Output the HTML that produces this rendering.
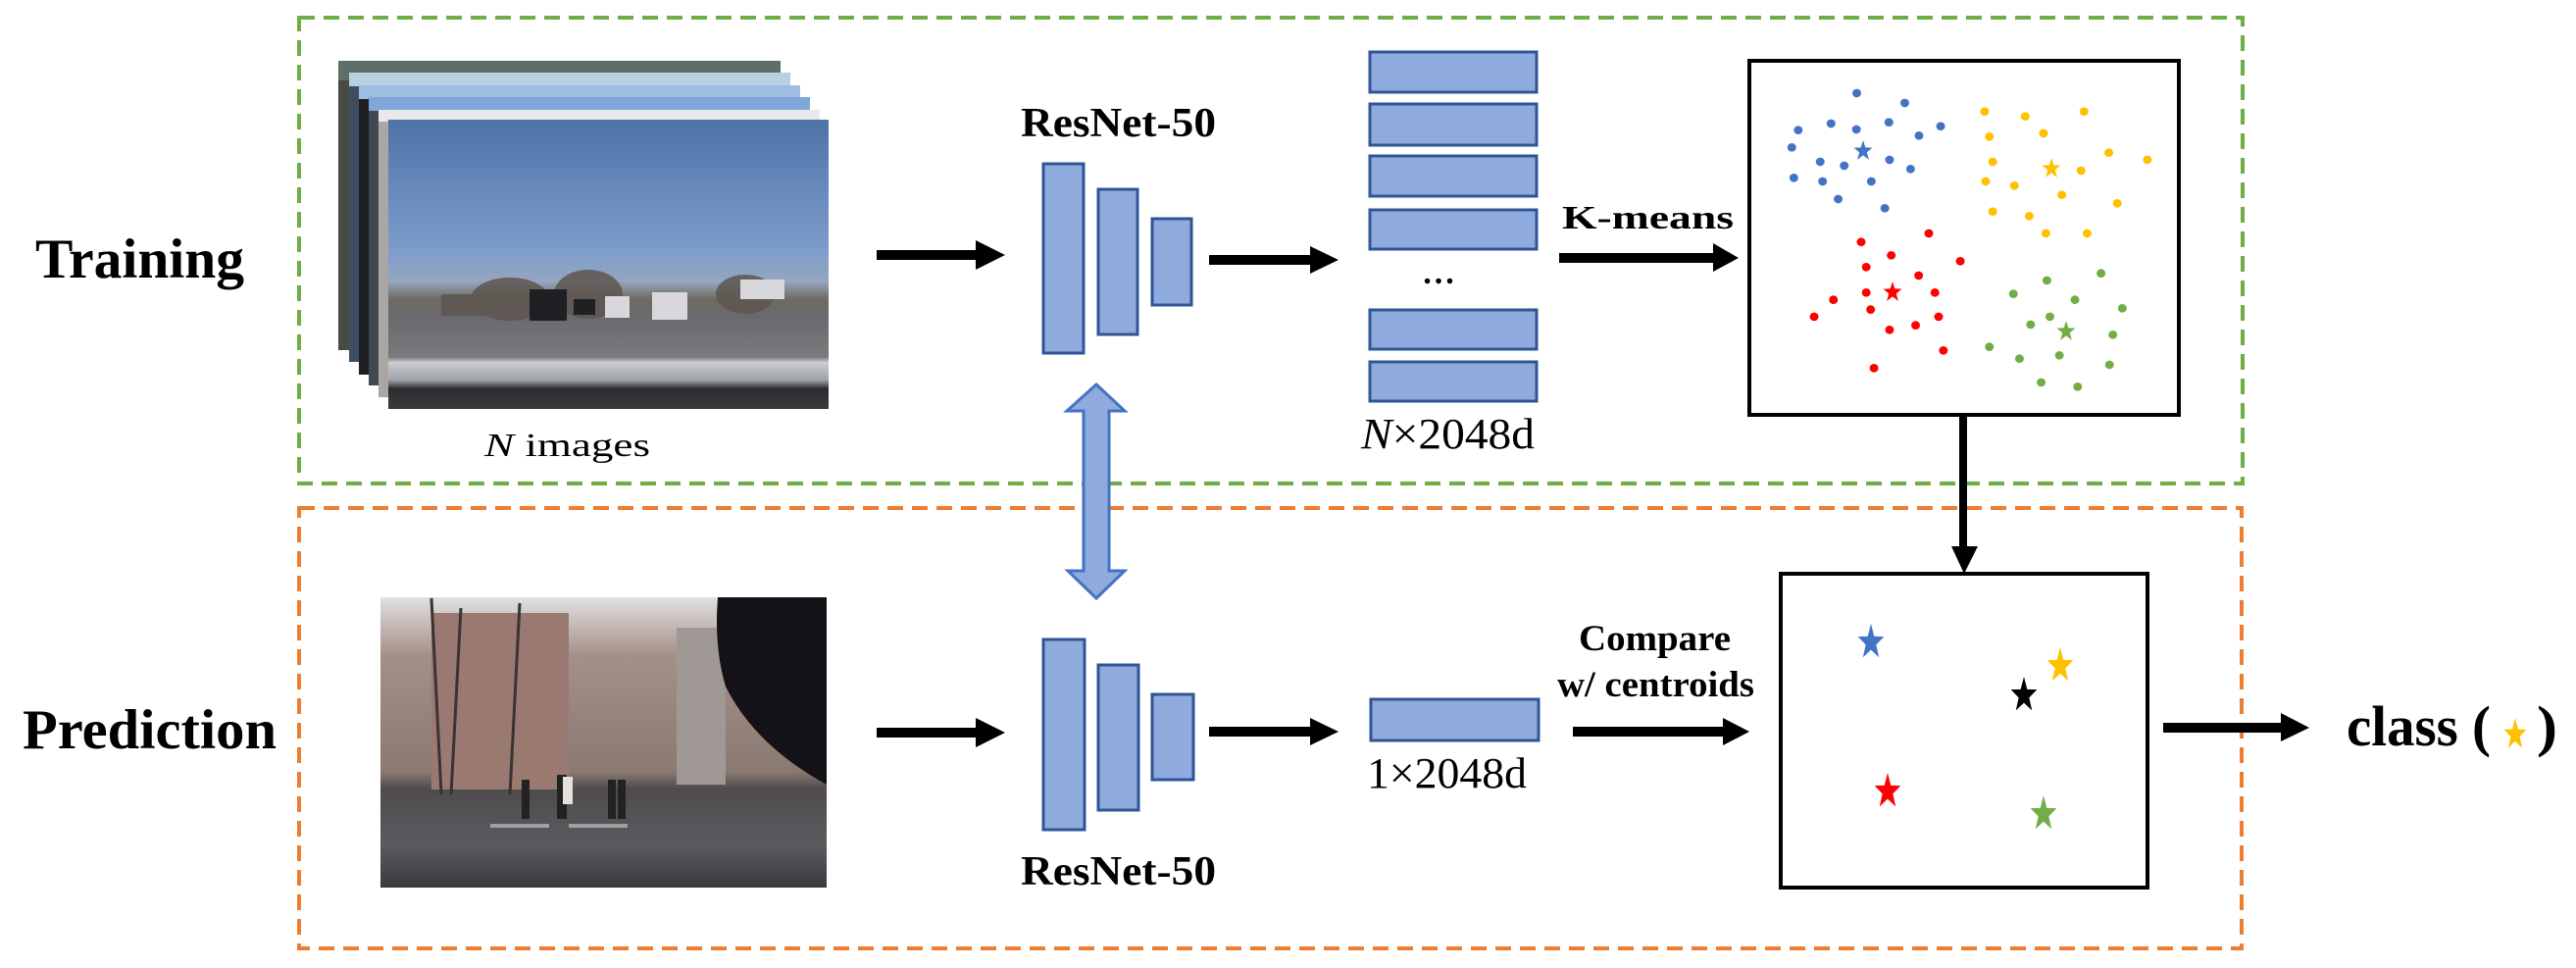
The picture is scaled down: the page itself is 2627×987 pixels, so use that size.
<!DOCTYPE html>
<html><head><meta charset="utf-8"><style>
html,body{margin:0;padding:0;background:#fff;}
svg{display:block;}
text{font-family:"Liberation Serif",serif;fill:#000;}
</style></head><body>
<svg width="2627" height="987" viewBox="0 0 2627 987" xmlns="http://www.w3.org/2000/svg">
<defs>
<path id="st" d="M0,-1 L0.235,-0.324 L0.951,-0.309 L0.38,0.124 L0.588,0.809 L0,0.4 L-0.588,0.809 L-0.38,0.124 L-0.951,-0.309 L-0.235,-0.324Z"/>
<linearGradient id="sky" x1="0" y1="0" x2="0" y2="1">
<stop offset="0" stop-color="#4e73a8"/><stop offset="0.45" stop-color="#7d9ccc"/><stop offset="0.56" stop-color="#95a6c0"/>
<stop offset="0.62" stop-color="#6d6a60"/><stop offset="0.68" stop-color="#6a6a6e"/><stop offset="0.82" stop-color="#7a797c"/>
<stop offset="0.84" stop-color="#c9ccd0"/><stop offset="0.9" stop-color="#9ea3a8"/><stop offset="0.93" stop-color="#2a2b2e"/><stop offset="1" stop-color="#3a3b3f"/>
</linearGradient>
<linearGradient id="pred" x1="0" y1="0" x2="0" y2="1">
<stop offset="0" stop-color="#e2e0e2"/><stop offset="0.2" stop-color="#a49088"/><stop offset="0.6" stop-color="#8a7a72"/>
<stop offset="0.66" stop-color="#4f4b4d"/><stop offset="0.85" stop-color="#5b5a5e"/><stop offset="1" stop-color="#3a3a3e"/>
</linearGradient>
</defs>

<rect x="305" y="18" width="1982" height="475" fill="none" stroke="#70ad47" stroke-width="4" stroke-dasharray="16,9"/>
<rect x="305" y="518" width="1981" height="449" fill="none" stroke="#ed7d31" stroke-width="4" stroke-dasharray="16,9"/>

<text x="36" y="283" font-size="57" font-weight="bold" textLength="213" lengthAdjust="spacingAndGlyphs">Training</text>
<text x="23" y="763" font-size="57" font-weight="bold" textLength="259" lengthAdjust="spacingAndGlyphs">Prediction</text>

<!-- image stack -->
<rect x="345" y="62" width="451" height="295" fill="#4a4a44"/>
<rect x="345" y="62" width="451" height="20" fill="#5e6f6a"/>
<rect x="356" y="74" width="450" height="295" fill="#3e4d60"/>
<rect x="356" y="74" width="450" height="14" fill="#b8d0e2"/>
<rect x="366" y="87" width="450" height="295" fill="#1d1f22"/>
<rect x="366" y="87" width="450" height="14" fill="#9fbde0"/>
<rect x="376" y="99" width="450" height="294" fill="#404852"/>
<rect x="376" y="99" width="450" height="14" fill="#7fa7d8"/>
<rect x="386" y="112" width="450" height="293" fill="#a9a6a4"/>
<rect x="386" y="112" width="450" height="12" fill="#e8e8ea"/>
<rect x="396" y="122" width="449" height="295" fill="url(#sky)"/>
<g fill="#5e5650" opacity="0.85">
<ellipse cx="520" cy="305" rx="40" ry="22"/><ellipse cx="600" cy="300" rx="35" ry="25"/><ellipse cx="760" cy="300" rx="30" ry="20"/>
<rect x="450" y="300" width="110" height="22"/>
</g>
<g fill="#1f2024"><rect x="540" y="295" width="38" height="32"/><rect x="585" y="305" width="22" height="16"/></g>
<g fill="#d8d8dc"><rect x="617" y="302" width="25" height="22"/><rect x="665" y="298" width="36" height="28"/><rect x="755" y="285" width="45" height="20"/></g>
<text x="494" y="465" font-size="34" textLength="169" lengthAdjust="spacingAndGlyphs"><tspan font-style="italic">N</tspan> images</text>

<!-- prediction image -->
<rect x="388" y="609" width="455" height="296" fill="url(#pred)"/>
<rect x="440" y="625" width="140" height="180" fill="#9a7a70"/>
<rect x="690" y="640" width="50" height="160" fill="#a09894"/>
<g stroke="#3a3234" stroke-width="3"><line x1="440" y1="610" x2="450" y2="810"/><line x1="470" y1="620" x2="460" y2="810"/><line x1="530" y1="615" x2="520" y2="810"/></g>
<g fill="#222"><rect x="532" y="795" width="8" height="40"/><rect x="568" y="790" width="10" height="45"/><rect x="620" y="795" width="8" height="40"/><rect x="630" y="795" width="8" height="40"/></g>
<rect x="574" y="792" width="10" height="28" fill="#e8e0dc"/>
<g fill="#cfcfd2" opacity="0.6"><rect x="500" y="840" width="60" height="4"/><rect x="580" y="840" width="60" height="4"/></g>
<path d="M732,609 L843,609 L843,800 Q770,760 740,700 Q728,660 732,609Z" fill="#141216"/>

<!-- arrows -->
<g fill="#000">
<rect x="894" y="255" width="103" height="10"/><polygon points="995,245 1025,260 995,275"/>
<rect x="894" y="742" width="103" height="10"/><polygon points="995,732 1025,747 995,762"/>
<rect x="1233" y="260" width="105" height="10"/><polygon points="1336,251 1365,265 1336,279"/>
<rect x="1233" y="741" width="105" height="10"/><polygon points="1336,732 1365,746 1336,760"/>
<rect x="1590" y="258" width="159" height="10"/><polygon points="1747,248 1773,263 1747,277"/>
<rect x="1604" y="741" width="155" height="10"/><polygon points="1757,732 1784,746 1757,760"/>
<rect x="2206" y="737" width="122" height="10"/><polygon points="2326,727 2355,742 2326,756"/>
<rect x="1998" y="423" width="8" height="136"/><polygon points="1990,557 2017,557 2003,585"/>
</g>

<g fill="#8faadc" stroke="#2f5597" stroke-width="3">
<rect x="1064" y="167" width="41" height="193"/>
<rect x="1120" y="193" width="40" height="148"/>
<rect x="1175" y="223" width="40" height="88"/>
<rect x="1064" y="652" width="42" height="194"/>
<rect x="1120" y="678" width="41" height="148"/>
<rect x="1175" y="708" width="42" height="87"/>
<rect x="1397" y="53" width="170" height="41"/>
<rect x="1397" y="106" width="170" height="42"/>
<rect x="1397" y="159" width="170" height="41"/>
<rect x="1397" y="214" width="170" height="40"/>
<rect x="1397" y="316" width="170" height="40"/>
<rect x="1397" y="369" width="170" height="40"/>
<rect x="1398" y="713" width="171" height="42"/>
</g>
<text x="1467" y="289" font-size="34" font-weight="bold" text-anchor="middle">…</text>
<polygon points="1118,392 1147,419 1131,419 1131,582 1147,582 1118,610 1089,582 1105,582 1105,419 1088,419" fill="#8faadc" stroke="#4472c4" stroke-width="3"/>

<text x="1041" y="139" font-size="42" font-weight="bold" textLength="199" lengthAdjust="spacingAndGlyphs">ResNet-50</text>
<text x="1041" y="902" font-size="42" font-weight="bold" textLength="199" lengthAdjust="spacingAndGlyphs">ResNet-50</text>
<text x="1388" y="457" font-size="44" textLength="177" lengthAdjust="spacingAndGlyphs"><tspan font-style="italic">N</tspan>×2048d</text>
<text x="1394" y="803" font-size="44" textLength="163" lengthAdjust="spacingAndGlyphs">1×2048d</text>
<text x="1593" y="233" font-size="34" font-weight="bold" textLength="175" lengthAdjust="spacingAndGlyphs">K-means</text>
<text x="1610" y="663" font-size="37" font-weight="bold" textLength="155" lengthAdjust="spacingAndGlyphs">Compare</text>
<text x="1588" y="710" font-size="37" font-weight="bold" textLength="201" lengthAdjust="spacingAndGlyphs">w/ centroids</text>

<rect x="1784" y="62" width="438" height="361" fill="#fff" stroke="#000" stroke-width="4"/>
<g transform="translate(1770,50) scale(0.345,0.3333)">
<g fill="#4472c4">
<circle cx="358" cy="135" r="13"/><circle cx="500" cy="165" r="13"/><circle cx="282" cy="228" r="13"/><circle cx="357" cy="246" r="13"/><circle cx="453" cy="224" r="13"/><circle cx="606" cy="236" r="13"/><circle cx="185" cy="248" r="13"/><circle cx="542" cy="265" r="13"/><circle cx="166" cy="301" r="13"/><circle cx="250" cy="345" r="13"/><circle cx="321" cy="357" r="13"/><circle cx="455" cy="339" r="13"/><circle cx="517" cy="367" r="13"/><circle cx="172" cy="394" r="13"/><circle cx="257" cy="405" r="13"/><circle cx="401" cy="405" r="13"/><circle cx="303" cy="459" r="13"/><circle cx="441" cy="487" r="13"/>
</g>
<g fill="#ffc000">
<circle cx="736" cy="191" r="13"/><circle cx="856" cy="206" r="13"/><circle cx="1030" cy="191" r="13"/><circle cx="750" cy="268" r="13"/><circle cx="910" cy="258" r="13"/><circle cx="1103" cy="317" r="13"/><circle cx="1217" cy="339" r="13"/><circle cx="760" cy="345" r="13"/><circle cx="1021" cy="372" r="13"/><circle cx="739" cy="405" r="13"/><circle cx="824" cy="418" r="13"/><circle cx="964" cy="446" r="13"/><circle cx="1128" cy="472" r="13"/><circle cx="760" cy="497" r="13"/><circle cx="868" cy="511" r="13"/><circle cx="917" cy="564" r="13"/><circle cx="1039" cy="564" r="13"/>
</g>
<g fill="#ff0000">
<circle cx="571" cy="564" r="13"/><circle cx="371" cy="590" r="13"/><circle cx="460" cy="631" r="13"/><circle cx="664" cy="649" r="13"/><circle cx="386" cy="667" r="13"/><circle cx="541" cy="693" r="13"/><circle cx="386" cy="745" r="13"/><circle cx="589" cy="745" r="13"/><circle cx="289" cy="767" r="13"/><circle cx="399" cy="797" r="13"/><circle cx="232" cy="819" r="13"/><circle cx="600" cy="819" r="13"/><circle cx="455" cy="859" r="13"/><circle cx="532" cy="845" r="13"/><circle cx="614" cy="922" r="13"/><circle cx="409" cy="976" r="13"/>
</g>
<g fill="#70ad47">
<circle cx="1080" cy="686" r="13"/><circle cx="920" cy="708" r="13"/><circle cx="821" cy="749" r="13"/><circle cx="1003" cy="767" r="13"/><circle cx="1143" cy="793" r="13"/><circle cx="929" cy="819" r="13"/><circle cx="872" cy="843" r="13"/><circle cx="1115" cy="874" r="13"/><circle cx="750" cy="911" r="13"/><circle cx="839" cy="947" r="13"/><circle cx="957" cy="937" r="13"/><circle cx="1105" cy="966" r="13"/><circle cx="903" cy="1020" r="13"/><circle cx="1011" cy="1033" r="13"/>
</g>
</g>
<use href="#st" transform="translate(1900,154) scale(10,11)" fill="#4472c4"/>
<use href="#st" transform="translate(2092,172) scale(10,11)" fill="#ffc000"/>
<use href="#st" transform="translate(1930,298) scale(10,11)" fill="#ff0000"/>
<use href="#st" transform="translate(2107,338) scale(10,11)" fill="#70ad47"/>

<rect x="1816" y="585" width="374" height="320" fill="#fff" stroke="#000" stroke-width="4"/>
<use href="#st" transform="translate(1908,655) scale(14,19)" fill="#4472c4"/>
<use href="#st" transform="translate(2101,679) scale(14,19)" fill="#ffc000"/>
<use href="#st" transform="translate(2064,709) scale(14,19)" fill="#000"/>
<use href="#st" transform="translate(1925,807) scale(14,19)" fill="#ff0000"/>
<use href="#st" transform="translate(2084,830) scale(14,19)" fill="#70ad47"/>

<text x="2393" y="760" font-size="58" font-weight="bold" textLength="147" lengthAdjust="spacingAndGlyphs">class (</text>
<use href="#st" transform="translate(2565,749) scale(12,17)" fill="#ffc000"/>
<text x="2587" y="760" font-size="58" font-weight="bold" textLength="21" lengthAdjust="spacingAndGlyphs">)</text>
</svg>
</body></html>
